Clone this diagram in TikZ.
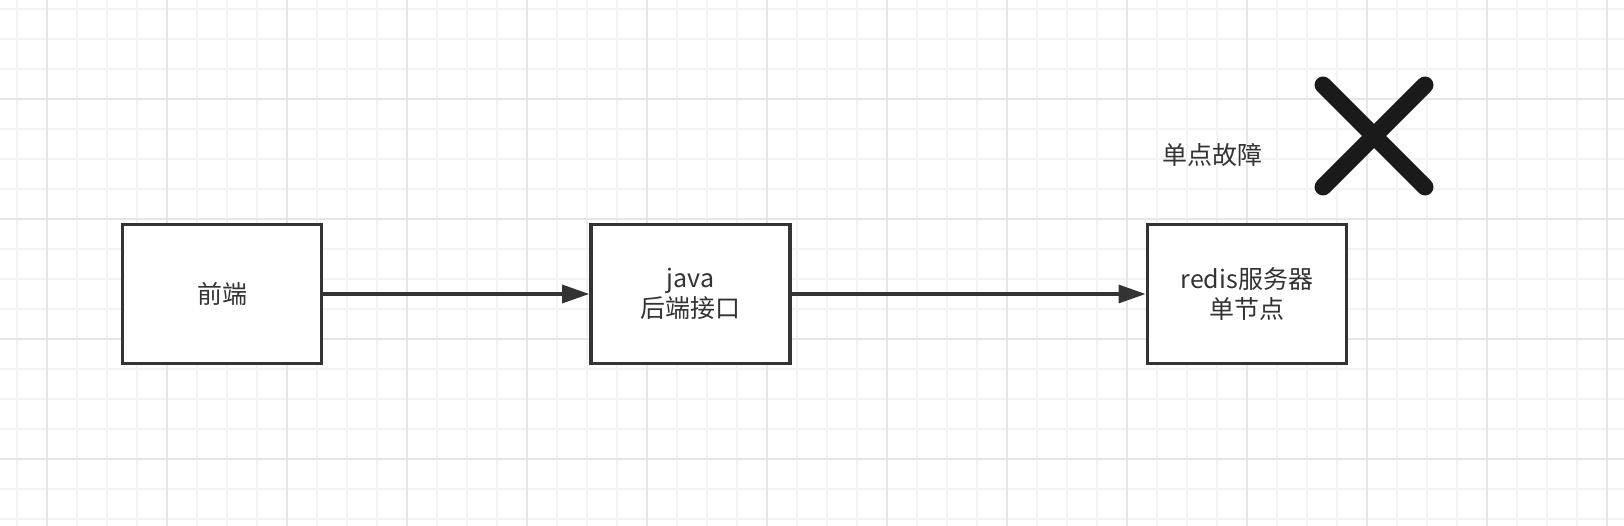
\documentclass[tikz,border=0pt]{standalone}
\usepackage{fontspec}
\setmainfont{Noto Sans CJK SC}
\usetikzlibrary{positioning}
\usetikzlibrary{arrows.meta}
\definecolor{boxline}{HTML}{333333}
\definecolor{gridminor}{HTML}{F3F3F3}
\definecolor{gridmajor}{HTML}{E6E6E6}
\definecolor{crossink}{HTML}{1A1A1A}

\begin{document}
\begin{tikzpicture}[x=1pt, y=-1pt,
    block/.style={draw=boxline, line width=3.4pt, fill=white, minimum width=199pt, minimum height=139pt,
                  inner sep=0pt, text=boxline, align=center, font=\fontsize{25}{30}\selectfont},
    link/.style={draw=boxline, line width=3.2pt, -{Triangle[length=27pt,width=18pt]}},
    crossline/.style={draw=crossink, line width=17pt, line cap=round},
    ]
  \useasboundingbox (0,0) rectangle (1624,526);
  \fill[white] (0,0) rectangle (1624,526);
  % grid
  \foreach \gx in {17,47,...,1607}
    \draw[gridminor, line width=1.5pt] (\gx,0) -- (\gx,526);
  \foreach \gy in {9,39,...,519}
    \draw[gridminor, line width=1.5pt] (0,\gy) -- (1624,\gy);
  \foreach \gx in {47,167,...,1607}
    \draw[gridmajor, line width=2pt] (\gx,0) -- (\gx,526);
  \foreach \gy in {99,219,...,459}
    \draw[gridmajor, line width=2pt] (0,\gy) -- (1624,\gy);

  % boxes
  \node[block] (front) at (222,294) {前端};
  \node[block, right=266pt of front] (backend) {java\\后端接口};
  \node[block, right=354pt of backend] (redis) {redis服务器\\单节点};

  \draw[link] (front) -- (backend);
  \draw[link] (backend) -- (redis);

  % failure mark
  \node[text=boxline, font=\fontsize{25}{30}\selectfont] (fail) at (1212,155) {单点故障};
  \coordinate (xmark) at (1374,136);
  \draw[crossline] ([shift={(-51,-51)}]xmark) -- ([shift={(51,51)}]xmark);
  \draw[crossline] ([shift={(51,-51)}]xmark) -- ([shift={(-51,51)}]xmark);
\end{tikzpicture}
\end{document}
